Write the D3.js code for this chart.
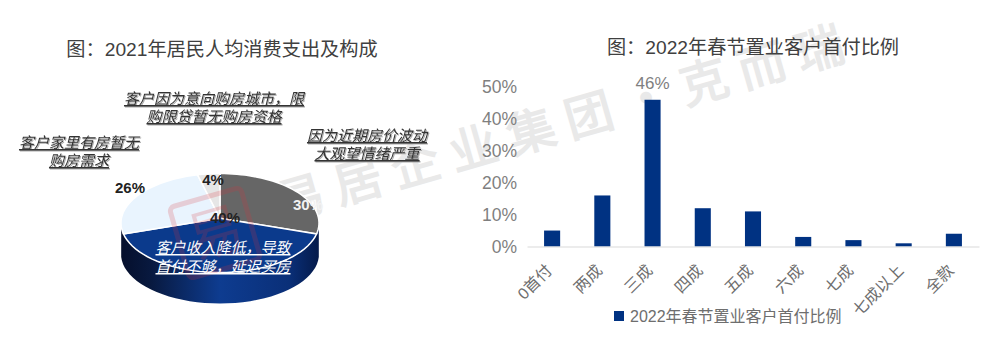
<!DOCTYPE html>
<html>
<head>
<meta charset="utf-8">
<script src="https://cdn.jsdelivr.net/npm/d3@7"></script>
<style>
  html, body { margin: 0; background: #fff; }
  svg { display: block; }
  text { font-family: "Liberation Sans", "Noto Sans CJK SC", sans-serif; }
</style>
</head>
<body>
<svg id="chart"></svg>
<script>
const pieValues = [30, 40, 26, 4];
const pieLabels = ["30%", "40%", "26%", "4%"];
const pieColors = ["#666666", "#0b3a8c", "#e9f4fe", "#e6e6e6"];
const pieNotes = [
    "客户因为意向购房城市，限", "购限贷暂无购房资格",
    "因为近期房价波动", "大观望情绪严重",
    "客户家里有房暂无", "购房需求",
    "客户收入降低，导致", "首付不够，延迟买房"
];
const pieTitle = "图：2021年居民人均消费支出及构成";
const barTitle = "图：2022年春节置业客户首付比例";
const categories = ["0首付", "两成", "三成", "四成", "五成", "六成", "七成", "七成以上", "全款"];
const shares = [5, 16, 46, 12, 11, 3, 2, 1, 4];
const yTicks = [0, 10, 20, 30, 40, 50];
const watermark = "易居企业集团·克而瑞";

const width = 1000, height = 359;
const svg = d3.select("#chart").attr("width", width).attr("height", height);

// watermark goes underneath everything
svg.append("text")
    .attr("transform", "translate(282,221) rotate(-16)")
    .attr("font-size", 48)
    .attr("fill", "#e9e9e9")
    .attr("stroke", "#e9e9e9")
    .attr("stroke-width", 1.5)
    .attr("letter-spacing", 12)
    .style("font-family", '"Noto Sans CJK SC", sans-serif')
    .text(watermark);

// pie, a circle seen in slight perspective so the centre sits above the middle of the ellipse
const cx = 220, cy = 223, rx = 99, ry = 49.5, depth = 31, tilt = -0.095;
const project = (a, r) => {
    const X = r * Math.sin(a), Y = -r * Math.cos(a), w = 1 + tilt * Y;
    return [cx + rx * X * Math.sqrt(1 - tilt * tilt) / w, cy + ry * (Y + tilt) / w];
};
const slices = d3.pie().sort(null)(pieValues);
const line = d3.line();
const sweep = (a0, a1) => d3.range(0, 41).map(i => a0 + (a1 - a0) * i / 40);

const grad = svg.append("defs").append("linearGradient").attr("id", "side");
[["0%", "#050f2c"], ["15%", "#08193f"], ["50%", "#0e3c90"], ["85%", "#0a2f78"], ["100%", "#041a4a"]]
    .forEach(s => grad.append("stop").attr("offset", s[0]).attr("stop-color", s[1]));

const pieG = svg.append("g");
const rim = sweep(Math.PI * 0.55, Math.PI * 1.45).map(a => project(a, 1));
const sidePts = rim.concat(rim.slice().reverse().map(p => [p[0], p[1] + depth]));
pieG.append("path").attr("d", line(sidePts) + "Z").attr("fill", "url(#side)");

pieG.selectAll(".slice")
    .data(slices)
    .join("path")
    .attr("class", "slice")
    .attr("d", d => line([project(0, 0)].concat(sweep(d.startAngle, d.endAngle).map(a => project(a, 1)))) + "Z")
    .attr("fill", (d, i) => pieColors[i])
    .attr("stroke", "#fff")
    .attr("stroke-width", 1.5);

// red stamp sitting on top of the pie
const stamp = svg.append("g").attr("transform", "translate(215,233) rotate(-16)").attr("opacity", 0.2);
stamp.append("rect").attr("x", -37).attr("y", -37).attr("width", 74).attr("height", 74).attr("rx", 5)
    .attr("fill", "none").attr("stroke", "#d8343c").attr("stroke-width", 5);
stamp.append("text").attr("text-anchor", "middle").attr("y", 20).attr("font-size", 56)
    .attr("fill", "#d8343c").text(watermark[0]);

const pieLabelPos = [[308, 210, "#f2f2f2"], [225, 223, "#222"], [130, 193, "#222"], [213, 185, "#222"]];
svg.append("g").selectAll("text")
    .data(pieLabels)
    .join("text")
    .attr("x", (d, i) => pieLabelPos[i][0])
    .attr("y", (d, i) => pieLabelPos[i][1])
    .attr("text-anchor", "middle")
    .attr("font-size", 15)
    .attr("font-weight", 700)
    .attr("fill", (d, i) => pieLabelPos[i][2])
    .text(d => d);

const notePos = [
    [214, 104], [214, 122],
    [367, 141], [367, 159],
    [79, 148], [79, 166],
    [223, 253], [223, 272]
];
svg.append("g").selectAll("text")
    .data(pieNotes)
    .join("text")
    .attr("x", (d, i) => notePos[i][0])
    .attr("y", (d, i) => notePos[i][1])
    .attr("text-anchor", "middle")
    .attr("font-size", 15)
    .attr("font-style", "italic")
    .attr("text-decoration", "underline")
    .attr("fill", (d, i) => i > 5 ? "#fff" : "#333")
    .style("filter", (d, i) => i > 5 ? null : "drop-shadow(1px 1px 0.5px #aaa)")
    .text(d => d);

svg.append("text").attr("x", 222).attr("y", 56).attr("text-anchor", "middle")
    .attr("font-size", 19.2).attr("fill", "#404040").text(pieTitle);
svg.append("text").attr("x", 753).attr("y", 54).attr("text-anchor", "middle")
    .attr("font-size", 19.2).attr("fill", "#404040").text(barTitle);

// bars
const x = d3.scaleBand(categories, [527, 979]).paddingInner(0.68).paddingOuter(0.34);
const y = d3.scaleLinear([0, 50], [246.5, 87]);

const yAxis = d3.axisLeft(y).tickValues(yTicks).tickFormat(d => d + "%").tickSize(0).tickPadding(10);
svg.append("g").attr("transform", "translate(527,0)").call(yAxis)
    .call(g => g.select(".domain").remove())
    .call(g => g.selectAll("text").attr("font-size", 17.5).attr("fill", "#7f7f7f")
        .style("font-family", '"Liberation Sans", sans-serif'));

svg.append("g").selectAll("rect")
    .data(shares)
    .join("rect")
    .attr("x", (d, i) => x(categories[i]))
    .attr("width", x.bandwidth())
    .attr("y", d => y(d))
    .attr("height", d => y(0) - y(d))
    .attr("fill", "#003282");

const xAxis = d3.axisBottom(x).tickSize(0).tickPadding(0);
svg.append("g").attr("transform", `translate(0,${y(0)})`).call(xAxis)
    .call(g => g.select(".domain").attr("stroke", "#d9d9d9").attr("stroke-width", 1.2))
    .call(g => g.selectAll("text")
        .attr("font-size", 16)
        .attr("fill", "#6e6e6e")
        .attr("text-anchor", "end")
        .attr("dy", 0)
        .attr("transform", "translate(1,25) rotate(-45)"));

svg.append("text")
    .attr("x", x(categories[2]) + x.bandwidth() / 2)
    .attr("y", y(shares[2]) - 11)
    .attr("text-anchor", "middle")
    .attr("font-size", 17)
    .attr("fill", "#7f7f7f")
    .style("font-family", '"Liberation Sans", sans-serif')
    .text(shares[2] + "%");

// legend
svg.append("rect").attr("x", 614).attr("y", 311).attr("width", 10).attr("height", 10).attr("fill", "#003282");
svg.append("text").attr("x", 630).attr("y", 322).attr("font-size", 16).attr("fill", "#6e6e6e")
    .text("2022年春节置业客户首付比例");
</script>
</body>
</html>
